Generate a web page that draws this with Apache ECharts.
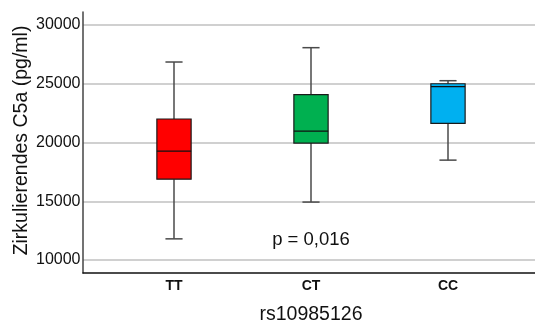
<!DOCTYPE html>
<html>
<head>
<meta charset="utf-8">
<style>
  html, body { margin: 0; padding: 0; background: #fff; }
  #chart { width: 535px; height: 324px; }
</style>
<script src="https://cdn.jsdelivr.net/npm/echarts@6/dist/echarts.min.js"></script>
</head>
<body>
<div id="chart"></div>
<script>
// Genotype groups and box statistics (pg/ml)
const categories = ['TT', 'CT', 'CC'];
const whiskerLow  = [11800, 14930, 18500];
const q1          = [16880, 19950, 21620];
const median      = [19260, 20960, 24760];
const q3          = [22000, 24080, 25000];
const whiskerHigh = [26850, 28070, 25260];
const boxColors   = ['#ff0000', '#00b050', '#00b0f0'];

const yTicks = { min: 10000, max: 30000, step: 5000 };
const pLabel = { text: 'p = 0,016', category: 'CT', value: 11700 };

const FONT = '"Liberation Sans", Arial, sans-serif';

const boxData = categories.map((c, i) =>
  [i, whiskerLow[i], q1[i], median[i], q3[i], whiskerHigh[i]]);

function renderBox(params, api) {
  const idx = api.value(0);
  const band = api.size([1, 0])[0];
  const boxW = band * 0.25;
  const capW = boxW * 0.5;
  const pLow = api.coord([idx, api.value(1)]);
  const pQ1 = api.coord([idx, api.value(2)]);
  const pMed = api.coord([idx, api.value(3)]);
  const pQ3 = api.coord([idx, api.value(4)]);
  const pHigh = api.coord([idx, api.value(5)]);
  const cx = pMed[0];
  const whisker = { stroke: '#4a4a4a', lineWidth: 1.5 };
  return {
    type: 'group',
    children: [
      { type: 'line', shape: { x1: cx, y1: pHigh[1], x2: cx, y2: pQ3[1] }, style: whisker },
      { type: 'line', shape: { x1: cx, y1: pQ1[1], x2: cx, y2: pLow[1] }, style: whisker },
      { type: 'line', shape: { x1: cx - capW / 2, y1: pHigh[1], x2: cx + capW / 2, y2: pHigh[1] }, style: whisker },
      { type: 'line', shape: { x1: cx - capW / 2, y1: pLow[1], x2: cx + capW / 2, y2: pLow[1] }, style: whisker },
      {
        type: 'rect',
        shape: { x: cx - boxW / 2, y: pQ3[1], width: boxW, height: pQ1[1] - pQ3[1] },
        style: { fill: boxColors[idx], stroke: '#1a1a1a', lineWidth: 1.2 }
      },
      { type: 'line', shape: { x1: cx - boxW / 2, y1: pMed[1], x2: cx + boxW / 2, y2: pMed[1] },
        style: { stroke: '#111', lineWidth: 1.2 } }
    ]
  };
}

const chart = echarts.init(document.getElementById('chart'), null, { renderer: 'canvas' });

chart.setOption({
  animation: false,
  backgroundColor: '#ffffff',
  grid: [
    // frame: axis lines
    { left: 83, right: 0, top: 12, bottom: 51, outerBoundsMode: 'none' },
    // gridlines and value labels
    { left: 83, right: 0, top: 25, bottom: 64, outerBoundsMode: 'none' },
    // boxes
    { left: 105.5, right: 18.5, top: 25, bottom: 64, outerBoundsMode: 'none' }
  ],
  xAxis: [
    {
      gridIndex: 0, type: 'value', min: 0, max: 1,
      axisLine: { show: true, lineStyle: { color: '#111', width: 1.5 } },
      axisTick: { show: false }, axisLabel: { show: false }, splitLine: { show: false }
    },
    {
      gridIndex: 1, type: 'value', min: 0, max: 1, show: false
    },
    {
      gridIndex: 2, type: 'category', data: categories, offset: 13,
      axisLine: { show: false }, axisTick: { show: false },
      axisLabel: { fontFamily: FONT, fontSize: 14, fontWeight: 'bold', color: '#111', margin: 6 },
      name: 'rs10985126', nameLocation: 'middle', nameGap: 32, nameMoveOverlap: false,
      nameTextStyle: { fontFamily: FONT, fontSize: 19.5, color: '#111' }
    }
  ],
  yAxis: [
    {
      gridIndex: 0, type: 'value', min: 0, max: 1,
      axisLine: { show: true, lineStyle: { color: '#444', width: 1.5 } },
      axisTick: { show: false }, axisLabel: { show: false }, splitLine: { show: false }
    },
    {
      gridIndex: 1, type: 'value', min: yTicks.min, max: yTicks.max, interval: yTicks.step,
      axisLine: { show: false }, axisTick: { show: false },
      axisLabel: { fontFamily: FONT, fontSize: 16, color: '#111', margin: 2.5,
        formatter: v => String(v) },
      splitLine: { show: true, lineStyle: { color: '#c0c0c0', width: 1.5 } },
      name: 'Zirkulierendes C5a (pg/ml)', nameLocation: 'middle', nameGap: 51, nameMoveOverlap: false,
      nameTextStyle: { fontFamily: FONT, fontSize: 19.5, color: '#111', padding: [0, 0, 0, 4] }
    },
    {
      gridIndex: 2, type: 'value', min: yTicks.min, max: yTicks.max, show: false
    }
  ],
  series: [
    {
      type: 'custom',
      xAxisIndex: 2, yAxisIndex: 2,
      renderItem: renderBox,
      encode: { x: 0, y: [1, 2, 3, 4, 5] },
      data: boxData,
      z: 5
    },
    {
      type: 'scatter',
      xAxisIndex: 2, yAxisIndex: 2,
      symbolSize: 0,
      itemStyle: { opacity: 1 },
      data: [[pLabel.category, pLabel.value]],
      label: {
        show: true, position: 'inside', formatter: pLabel.text,
        fontFamily: FONT, fontSize: 18.5, color: '#111', opacity: 1
      },
      silent: true
    }
  ]
});
</script>
</body>
</html>
